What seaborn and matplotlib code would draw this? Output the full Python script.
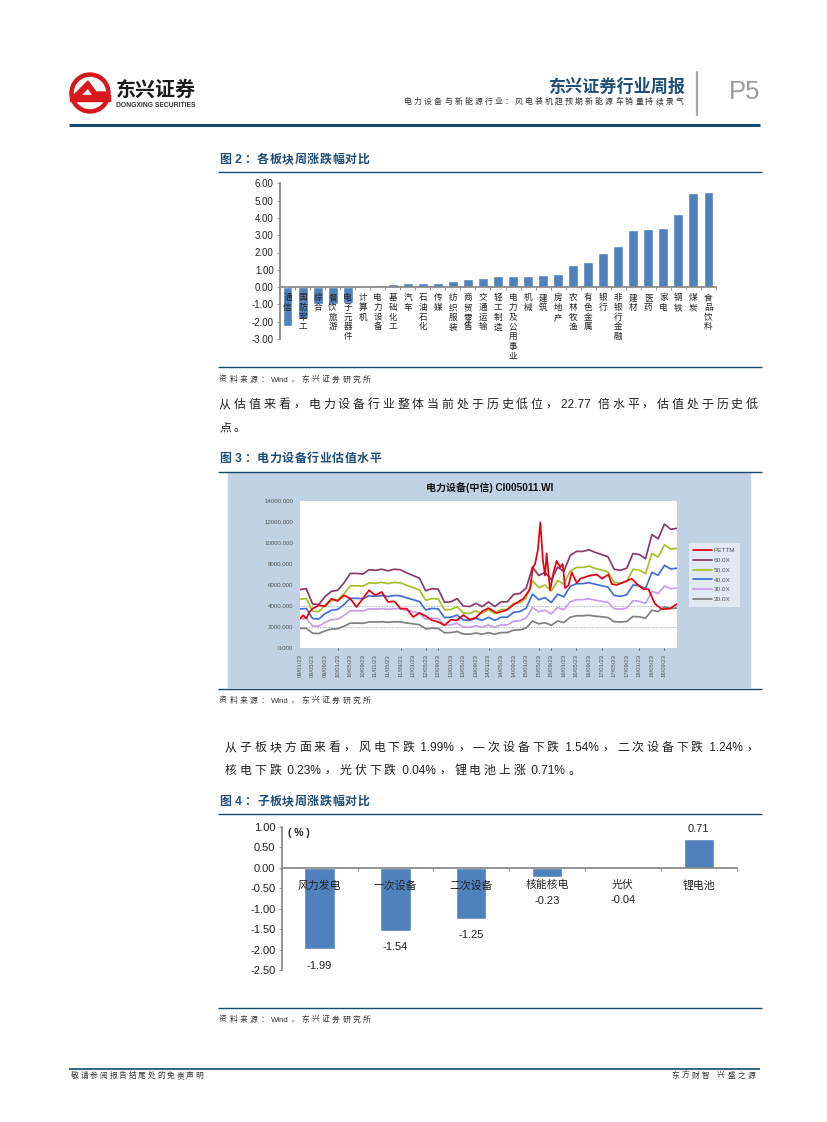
import numpy as np
import pandas as pd
import matplotlib
matplotlib.use('Agg')
import matplotlib.pyplot as plt
from matplotlib.patches import Rectangle, Circle, Polygon
import seaborn as sns

W, H = 827, 1122

# figure 2 data
sector_names = ['通信', '国防军工', '综合', '餐饮旅游', '电子元器件', '计算机', '电力设备', '基础化工', '汽车', '石油石化',
                '传媒', '纺织服装', '商贸零售', '交通运输', '轻工制造', '电力及公用事业', '机械', '建筑', '房地产', '农林牧渔',
                '有色金属', '银行', '非银行金融', '建材', '医药', '家电', '钢铁', '煤炭', '食品饮料']
sector_change = [-2.25, -1.85, -1.0, -0.95, -0.9, 0.08, 0.13, 0.2, 0.22, 0.22,
                 0.22, 0.33, 0.45, 0.5, 0.62, 0.62, 0.62, 0.68, 0.78, 1.3,
                 1.47, 1.95, 2.37, 3.28, 3.33, 3.4, 4.2, 5.43, 5.48]

# figure 3 data, band values are every 2 months from 2009-01
band_months = list(range(0, 121, 2))
pe_60x = [5570, 5650, 4200, 4150, 4900, 5400, 5500, 6200, 7100, 7100, 7050, 7450, 7400, 7500, 7350, 7500, 7450, 7150, 6900, 6650, 5450, 5650, 5600, 4350, 4400, 4700, 4000, 3950, 4250, 3950, 4380,
          3950, 4400, 4400, 5100, 5200, 5700, 7700, 6900, 7200, 6500, 7700, 7300, 8800, 9200, 9200, 9350, 9100, 8900, 8700, 7500, 7400, 7600, 9000, 8900, 8500, 10800, 10400, 11800, 11300, 11400]
pe_50x = [4640, 4710, 3500, 3460, 4080, 4500, 4580, 5170, 5920, 5920, 5880, 6210, 6170, 6250, 6130, 6250, 6210, 5960, 5750, 5540, 4540, 4710, 4670, 3630, 3670, 3920, 3330, 3290, 3540, 3290, 3650,
          3290, 3670, 3670, 4250, 4330, 4750, 6420, 5750, 6000, 5420, 6420, 6080, 7330, 7670, 7670, 7790, 7580, 7420, 7250, 6250, 6170, 6330, 7500, 7420, 7080, 9000, 8670, 9830, 9420, 9500]
pe_40x = [3710, 3770, 2800, 2770, 3270, 3600, 3670, 4130, 4730, 4730, 4700, 4970, 4930, 5000, 4900, 5000, 4970, 4770, 4600, 4430, 3630, 3770, 3730, 2900, 2930, 3130, 2670, 2630, 2830, 2630, 2920,
          2630, 2930, 2930, 3400, 3470, 3800, 5130, 4600, 4800, 4330, 5130, 4870, 5870, 6130, 6130, 6230, 6070, 5930, 5800, 5000, 4930, 5070, 6000, 5930, 5670, 7200, 6930, 7870, 7530, 7600]
pe_30x = [2790, 2830, 2100, 2080, 2450, 2700, 2750, 3100, 3550, 3550, 3530, 3730, 3700, 3750, 3680, 3750, 3730, 3580, 3450, 3330, 2730, 2830, 2800, 2180, 2200, 2350, 2000, 1980, 2130, 1980, 2190,
          1980, 2200, 2200, 2550, 2600, 2850, 3850, 3450, 3600, 3250, 3850, 3650, 4400, 4600, 4600, 4680, 4550, 4450, 4350, 3750, 3700, 3800, 4500, 4450, 4250, 5400, 5200, 5900, 5650, 5700]
pe_20x = [1860, 1880, 1400, 1380, 1630, 1800, 1830, 2070, 2370, 2370, 2350, 2480, 2470, 2500, 2450, 2500, 2480, 2380, 2300, 2220, 1820, 1880, 1870, 1450, 1470, 1570, 1330, 1320, 1420, 1320, 1460,
          1320, 1470, 1470, 1700, 1730, 1900, 2570, 2300, 2400, 2170, 2570, 2430, 2930, 3070, 3070, 3120, 3030, 2970, 2900, 2500, 2470, 2530, 3000, 2970, 2830, 3600, 3470, 3930, 3770, 3800]
ttm_months = [0, 1, 2, 3, 4, 6, 8, 10, 12, 14, 16, 18, 20, 22, 24, 26, 28, 30, 32, 34, 36, 38, 40, 42, 44, 46, 48, 50, 52, 54, 56, 58, 60,
              62.6, 65.8, 67.9, 71.1, 73.2, 74.1, 74.8, 75.7, 76.5, 77.3, 78, 78.5, 79.6, 80.7, 81.7, 82.8, 83.6, 84.4, 85.5, 86.5, 88.1, 89.2,
              92.3, 94.5, 96.1, 98.2, 99.2, 100.8, 104, 105.6, 107.2, 109.3, 110.9, 113, 115.2, 117.8, 120]
ttm_values = [2800, 3120, 2800, 3430, 3750, 4070, 3970, 4700, 4480, 5020, 4700, 3900, 4700, 5500, 5020, 5340, 4390, 4450, 3750, 3750, 2950, 3340, 3050, 2640, 2480, 2160, 2700, 2640, 3140, 2700, 2900, 3500, 3800,
              3330, 3620, 4100, 4700, 5600, 7700, 8000, 9300, 11970, 8400, 6900, 9000, 5500, 7200, 8300, 7700, 8000, 5700, 6000, 7200, 6200, 6600,
              6900, 7000, 6600, 7000, 6100, 6000, 6400, 6600, 6100, 5600, 5600, 4200, 3700, 3750, 4200]
date_labels = ['09/01/23', '09/05/23', '09/09/23', '10/01/23', '10/05/23', '10/09/23', '11/01/23', '11/05/23', '11/09/23', '12/01/23',
               '12/05/23', '12/09/23', '13/01/23', '13/05/23', '13/09/23', '14/01/23', '14/05/23', '14/09/23', '15/01/23', '15/05/23',
               '15/09/23', '16/01/23', '16/05/23', '16/09/23', '17/01/23', '17/05/23', '17/09/23', '18/01/23', '18/05/23', '18/09/23']
marked_ticks = [3, 8, 10, 11, 15, 19, 20, 22, 24, 27, 29]
value_ticks = [0, 2000, 4000, 6000, 8000, 10000, 12000, 14000]

# figure 4 data
sub_names = ['风力发电', '一次设备', '二次设备', '核能核电', '光伏', '锂电池']
sub_change = [-1.99, -1.54, -1.25, -0.23, -0.04, 0.71]

sns.set_theme(style='white')
plt.rcParams['font.family'] = ['Liberation Sans', 'Noto Sans CJK SC', 'DejaVu Sans']
plt.rcParams['axes.unicode_minus'] = False

NAVY = '#17496f'
TITLE = '#1f4e79'
BAR = '#4f81bd'
AXIS = '#868686'

fig = plt.figure(figsize=(8.27, 11.22), dpi=100)
page = fig.add_axes([0, 0, 1, 1], zorder=0)
page.set_xlim(0, W)
page.set_ylim(H, 0)
page.axis('off')
renderer = fig.canvas.get_renderer()


def axes_px(left, top, right, bottom):
    return fig.add_axes([left / W, 1 - bottom / H, (right - left) / W, (bottom - top) / H], zorder=2)


def spaced(x, y, s, step, size, color='#222222', weight='normal'):
    # the pdf text is letter spaced, so CJK goes char by char and latin runs stay whole
    run = ''
    for ch in s + '\0':
        if ord(ch) < 128 and ch != '\0':
            run += ch
            continue
        if run:
            t = page.text(x, y, run, fontsize=size, color=color, weight=weight, va='center', ha='left')
            x += t.get_window_extent(renderer).width + step * 0.25
            run = ''
        if ch != '\0':
            page.text(x, y, ch, fontsize=size, color=color, weight=weight, va='center', ha='left')
            x += step


def rule(y, x0=218, x1=762, lw=1.0, color=NAVY):
    page.plot([x0, x1], [y, y], color=color, lw=lw, solid_capstyle='butt')


def fig_head(y_title, y_rule, s):
    spaced(219, y_title, s, 12.5, 8.6, color=TITLE, weight='bold')
    rule(y_rule)


def source(y_rule, y_text):
    rule(y_rule)
    spaced(219, y_text, '资料来源：Wind，东兴证券研究所', 10.3, 5.6, color='#333333')


# page header
page.add_patch(Circle((90, 93), 20, color='#d7191c'))
page.add_patch(Circle((90, 93), 15.5, color='white'))
page.add_patch(Rectangle((70, 95), 40, 6, color='#d7191c'))
page.add_patch(Polygon([(74, 95), (88, 81), (96, 92), (106, 92), (106, 97), (94, 97), (88, 88), (79, 97)], color='#d7191c'))
page.text(116, 90, '东兴证券', fontsize=14.4, weight='bold', color='#1a1a1a', va='center')
page.text(116, 105, 'DONGXING SECURITIES', fontsize=4.9, weight='bold', color='#333333', va='center')
page.text(686, 86, '东兴证券行业周报', fontsize=12.3, weight='bold', color=TITLE, va='center', ha='right')
spaced(404, 102, '电力设备与新能源行业：风电装机超预期新能源车销量持续景气', 10.05, 5.7, color='#333333')
page.plot([697, 697], [72, 115], color='#a6a6a6', lw=1.6)
page.text(729, 92, 'P5', fontsize=18.5, color='#9a9a9a', va='center')
rule(125, 69, 760, lw=2.2)

# page text
fig_head(160, 172, '图 2：各板块周涨跌幅对比')
source(367, 380)
spaced(219, 405, '从估值来看，电力设备行业整体当前处于历史低位，22.77 倍水平，估值处于历史低', 14.85, 8.6)
spaced(219, 428, '点。', 14.85, 8.6)
fig_head(459, 472, '图 3：电力设备行业估值水平')
page.add_patch(Rectangle((228, 473), 522, 214, color='#c0d2e4'))
source(689, 701)
spaced(225, 748, '从子板块方面来看，风电下跌 1.99%，一次设备下跌 1.54%，二次设备下跌 1.24%，', 14.8, 8.6)
spaced(225, 771, '核电下跌 0.23%，光伏下跌 0.04%，锂电池上涨 0.71%。', 14.8, 8.6)
fig_head(802, 814, '图 4：子板块周涨跌幅对比')
source(1008, 1020)

# page footer
rule(1069, 69, 760, lw=1.2)
spaced(71, 1076, '敬请参阅报告结尾处的免责声明', 9.6, 5.6, color='#333333')
spaced(671, 1076, '东方财智 兴盛之源', 10.3, 5.6, color='#333333')

# figure 2
ax1 = axes_px(280, 183.3, 716, 339)
df1 = pd.DataFrame({'sector': sector_names, 'change': sector_change})
bar_colors = [BAR] * len(sector_names)
bar_colors[sector_names.index('电力设备')] = '#8d6a8f'
sns.barplot(data=df1, x='sector', y='change', hue='sector', palette=bar_colors, saturation=1,
            width=0.66, legend=False, ax=ax1)
sns.despine(ax=ax1)
# moving the spine resets the ticks, so it has to come before the labels
ax1.spines['bottom'].set_position(('data', 0))
ax1.spines['bottom'].set_color(AXIS)
ax1.spines['left'].set_color(AXIS)
ax1.set_axisbelow(False)  # category names sit on top of the negative bars
ax1.set_xlim(-0.5, len(sector_names) - 0.5)
ax1.set_ylim(-3, 6)
ax1.set_yticks(np.arange(-3, 7))
ax1.set_yticklabels([f'{v:.2f}' for v in np.arange(-3, 7)], fontsize=7, color='#222222')
ax1.set_xticks(range(len(sector_names)))
ax1.set_xticklabels(['\n'.join(s) for s in sector_names], fontsize=6.2, color='#222222', linespacing=1.1)
ax1.set_xticks(np.arange(-0.5, len(sector_names)), minor=True)
ax1.set_xlabel('')
ax1.set_ylabel('')
ax1.patch.set_alpha(0)
ax1.tick_params(axis='x', which='major', length=0, pad=4.5)
ax1.tick_params(axis='x', which='minor', length=2, width=0.6, color=AXIS, bottom=True)
ax1.tick_params(axis='y', length=2.5, width=0.6, color=AXIS, left=True, pad=2)

# figure 3
ax2 = axes_px(300, 501, 677, 648)
bands = pd.DataFrame({'month': band_months, '60.0X': pe_60x, '50.0X': pe_50x, '40.0X': pe_40x,
                      '30.0X': pe_30x, '20.0X': pe_20x})
long_df = bands.melt(id_vars='month', var_name='series', value_name='value')
ttm_df = pd.DataFrame({'month': ttm_months, 'series': 'PETTM', 'value': ttm_values})
long_df = pd.concat([long_df, ttm_df], ignore_index=True)
line_colors = {'PETTM': '#e60012', '60.0X': '#8b3a6b', '50.0X': '#a6c02a', '40.0X': '#3f6fd8',
               '30.0X': '#c99be8', '20.0X': '#808080'}
ax2.axhline(4000, color='#8a9aa8', lw=0.5, ls=(0, (2, 2)))
ax2.axhline(2000, color='#8a9aa8', lw=0.5, ls=(0, (2, 2)))
sns.lineplot(data=long_df, x='month', y='value', hue='series', palette=line_colors,
             hue_order=['60.0X', '50.0X', '40.0X', '30.0X', '20.0X', 'PETTM'],
             lw=1.25, errorbar=None, ax=ax2)
ax2.set_xlim(0, 120)
ax2.set_ylim(0, 14000)
ax2.set_xticks(np.arange(len(date_labels)) * 4)
ax2.set_xticklabels(date_labels, rotation=90, fontsize=4.2, color='#555555')
ax2.set_yticks(value_ticks)
ax2.set_yticklabels([f'{v}.000' for v in value_ticks], fontsize=4.4, color='#555555')
ax2.set_xlabel('')
ax2.set_ylabel('')
for side in ax2.spines.values():
    side.set_visible(False)
ax2.tick_params(axis='y', length=0, pad=5)
ax2.tick_params(axis='x', length=1.5, width=0.5, color='#222222', bottom=True, pad=3)
for i, tick in enumerate(ax2.xaxis.get_major_ticks()):
    tick.tick1line.set_visible(i in marked_ticks)
handles, labels = ax2.get_legend_handles_labels()
order = [5, 0, 1, 2, 3, 4]
leg = ax2.legend([handles[i] for i in order], [labels[i] for i in order], loc='center',
                 bbox_to_anchor=(714.5 / W, 1 - 575 / H), bbox_transform=fig.transFigure,
                 fontsize=4.6, frameon=True, fancybox=False, facecolor='#e1e9f2', edgecolor='none',
                 framealpha=1, handlelength=2.9, labelspacing=0.68, handletextpad=0.3, borderpad=0.7,
                 borderaxespad=0)
for text in leg.get_texts():
    text.set_color('#555555')
page.text(490, 488, '电力设备(中信) CI005011.WI', fontsize=7.2, weight='bold', color='#111111', ha='center', va='center')

# figure 4
ax3 = axes_px(281.7, 826.7, 736.7, 970)
df3 = pd.DataFrame({'name': sub_names, 'change': sub_change})
sns.barplot(data=df3, x='name', y='change', color=BAR, saturation=1, width=0.4, ax=ax3)
sns.despine(ax=ax3)
ax3.spines['bottom'].set_position(('data', 0))
ax3.spines['bottom'].set_color(AXIS)
ax3.spines['left'].set_color(AXIS)
ax3.set_axisbelow(False)
ax3.set_xlim(-0.5, len(sub_names) - 0.5)
ax3.set_ylim(-2.5, 1)
yt = np.arange(-2.5, 1.01, 0.5)
ax3.set_yticks(yt)
ax3.set_yticklabels([f'{v:.2f}' for v in yt], fontsize=8, color='#222222')
ax3.set_xticks(range(len(sub_names)))
ax3.set_xticklabels(sub_names, fontsize=7.8, color='#222222')
ax3.set_xticks(np.arange(-0.5, len(sub_names)), minor=True)
ax3.set_xlabel('')
ax3.set_ylabel('')
ax3.patch.set_alpha(0)
ax3.tick_params(axis='x', which='major', length=0, pad=9)
ax3.tick_params(axis='x', which='minor', length=2, width=0.6, color=AXIS, bottom=True)
ax3.tick_params(axis='y', length=2.5, width=0.6, color=AXIS, left=True, pad=2)
label_gaps = [12, 12, 12, 17, 22, 7]
for bar, val, gap in zip(ax3.patches, sub_change, label_gaps):
    ax3.annotate(f'{val:.2f}', (bar.get_x() + bar.get_width() / 2, val), xytext=(0, gap if val > 0 else -gap),
                 textcoords='offset points', ha='center', va='center', fontsize=8, color='#222222',
                 annotation_clip=False)
ax3.text(288, 832.7, '( % )', fontsize=7.5, weight='bold', color='#222222', va='center',
         transform=page.transData)

fig.savefig('out.png', dpi=100)
